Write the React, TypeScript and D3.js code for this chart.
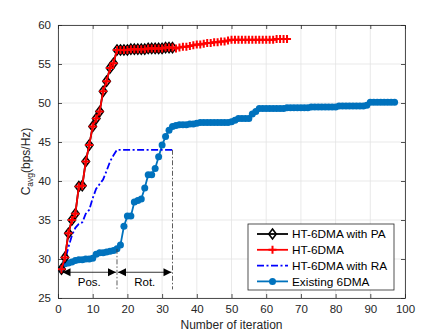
import React, { useRef, useEffect } from 'react';
import * as d3 from 'd3';

// values, iteration index starts at 1
const paValues = [28.7, 30.2, 33.3, 35.0, 35.8, 39.3, 39.4, 42.5, 44.6, 47.0, 48.0, 48.9, 51.5, 52.8, 54.5, 55.1, 56.8,
	56.8, 56.8, 56.8, 56.9, 56.9, 56.9, 56.9, 56.9, 57.0, 57.0, 57.0, 57.0, 57.0, 57.1, 57.1, 57.1];

const htValues = [28.7, 30.2, 33.3, 35.0, 35.8, 39.3, 39.4, 42.5, 44.6, 47.0, 48.0, 48.9, 51.5, 52.8, 54.5, 55.1, 56.8,
	56.8, 56.8, 56.8, 56.9, 56.9, 56.9, 56.9, 56.9, 57.0, 57.0, 57.0, 57.0, 57.0, 57.1, 57.1, 57.1,
	57.0, 57.1, 57.2, 57.2, 57.3, 57.4, 57.5, 57.5, 57.6, 57.7, 57.7, 57.8, 57.8, 57.9, 57.9, 58.0, 58.1,
	58.1, 58.1, 58.1, 58.1, 58.1, 58.1, 58.1, 58.1, 58.1, 58.1, 58.1, 58.1, 58.2, 58.2, 58.2, 58.2];

const raValues = [28.7, 29.8, 31.5, 33.0, 34.0, 34.5, 34.7, 35.8, 36.3, 37.8, 39.0, 39.6, 40.2, 41.3, 42.5, 43.3, 44.0,
	44.0, 44.0, 44.0, 44.0, 44.0, 44.0, 44.0, 44.0, 44.0, 44.0, 44.0, 44.0, 44.0, 44.0, 44.0, 44.0];

const existingValues = [28.7, 29.4, 29.5, 29.6, 29.8, 29.9, 29.9, 30.0, 30.0, 30.1,
	30.6, 30.8, 30.8, 30.9, 31.0, 31.1, 31.3, 31.8, 34.2, 35.5,
	35.5, 37.3, 37.5, 37.7, 39.1, 40.8, 40.8, 41.6, 43.1, 44.6,
	45.7, 46.5, 47.0, 47.1, 47.2, 47.2, 47.2, 47.3, 47.3, 47.4,
	47.5, 47.5, 47.5, 47.5, 47.5, 47.5, 47.5, 47.5, 47.5, 47.6,
	47.8, 48.0, 48.0, 48.0, 48.0, 48.6, 48.9, 49.3, 49.3, 49.3,
	49.3, 49.3, 49.3, 49.3, 49.3, 49.4, 49.4, 49.4, 49.4, 49.4,
	49.4, 49.4, 49.5, 49.5, 49.5, 49.5, 49.5, 49.5, 49.5, 49.5,
	49.6, 49.6, 49.6, 49.6, 49.6, 49.6, 49.6, 49.6, 49.7, 50.1,
	50.1, 50.1, 50.1, 50.1, 50.1, 50.1, 50.1];

const xTicks = [0, 10, 20, 30, 40, 50, 60, 70, 80, 90, 100];
const yTicks = [25, 30, 35, 40, 45, 50, 55, 60];
const legendLabels = ['HT-6DMA with PA', 'HT-6DMA', 'HT-6DMA with RA', 'Existing 6DMA'];
const phaseLabels = ['Pos.', 'Rot.'];
const phaseBounds = [1, 17, 33];

const App = () => {
	const svgRef = useRef(null);

	useEffect(() => {
		document.body.style.margin = '0';
		const width = 447;
		const height = 335;
		const m = { left: 58, right: 42, top: 25, bottom: 37 };
		const font = 'Liberation Sans, Arial, Helvetica, sans-serif';
		const axisColor = '#262626';

		const svg = d3.select(svgRef.current)
			.attr('width', width)
			.attr('height', height)
			.style('display', 'block')
			.style('background', '#fff');
		svg.selectAll('*').remove();

		const x = d3.scaleLinear().domain([0, 100]).range([m.left, width - m.right]);
		const y = d3.scaleLinear().domain([25, 60]).range([height - m.bottom, m.top]);

		const defs = svg.append('defs');
		defs.append('clipPath').attr('id', 'plot-clip')
			.append('rect')
			.attr('x', m.left).attr('y', m.top)
			.attr('width', x(100) - x(0)).attr('height', y(25) - y(60));

		// grid
		const grid = svg.append('g').attr('stroke', '#e3e3e3').attr('stroke-width', 0.8);
		grid.selectAll('.gx').data(xTicks).join('line')
			.attr('x1', d => x(d)).attr('x2', d => x(d))
			.attr('y1', y(25)).attr('y2', y(60));
		grid.selectAll('.gy').data(yTicks).join('line')
			.attr('y1', d => y(d)).attr('y2', d => y(d))
			.attr('x1', x(0)).attr('x2', x(100));

		// axes (ticks point inward, box on)
		const tickLen = 4;
		const xAxis = d3.axisBottom(x).tickValues(xTicks).tickSizeInner(-tickLen).tickSizeOuter(0).tickPadding(7);
		const yAxis = d3.axisLeft(y).tickValues(yTicks).tickSizeInner(-tickLen).tickSizeOuter(0).tickPadding(7);
		const xTop = d3.axisTop(x).tickValues(xTicks).tickSizeInner(-tickLen).tickSizeOuter(0).tickFormat(() => '');
		const yRight = d3.axisRight(y).tickValues(yTicks).tickSizeInner(-tickLen).tickSizeOuter(0).tickFormat(() => '');

		const axes = [
			svg.append('g').attr('transform', `translate(0,${y(25)})`).call(xAxis),
			svg.append('g').attr('transform', `translate(${x(0)},0)`).call(yAxis),
			svg.append('g').attr('transform', `translate(0,${y(60)})`).call(xTop),
			svg.append('g').attr('transform', `translate(${x(100)},0)`).call(yRight),
		];
		axes.forEach(g => {
			g.select('.domain').attr('stroke', axisColor).attr('stroke-width', 0.8);
			g.selectAll('.tick line').attr('stroke', axisColor).attr('stroke-width', 0.8);
			g.selectAll('.tick text').attr('fill', axisColor).style('font-family', font).style('font-size', '11.5px');
		});

		const plot = svg.append('g').attr('clip-path', 'url(#plot-clip)');
		const line = d3.line().x((d, i) => x(i + 1)).y(d => y(d));

		const plusPath = (s) => `M${-s},0H${s}M0,${-s}V${s}`;
		const diamondPath = (s) => `M0,${-s}L${s * 0.75},0L0,${s}L${-s * 0.75},0Z`;

		// Existing 6DMA
		plot.append('path').datum(existingValues)
			.attr('d', line).attr('fill', 'none').attr('stroke', '#0072bd').attr('stroke-width', 1.8);
		plot.selectAll('.ex').data(existingValues).join('circle')
			.attr('cx', (d, i) => x(i + 1)).attr('cy', d => y(d)).attr('r', 3.5)
			.attr('fill', '#0072bd');

		// HT-6DMA with RA
		plot.append('path').datum(raValues)
			.attr('d', line).attr('fill', 'none').attr('stroke', '#0000ff')
			.attr('stroke-width', 1.8).attr('stroke-dasharray', '7,2.5,2,2.5');

		// HT-6DMA with PA
		plot.append('path').datum(paValues)
			.attr('d', line).attr('fill', 'none').attr('stroke', '#000').attr('stroke-width', 1.8);
		plot.selectAll('.pa').data(paValues).join('path')
			.attr('transform', (d, i) => `translate(${x(i + 1)},${y(d)})`)
			.attr('d', diamondPath(5)).attr('fill', 'none').attr('stroke', '#000').attr('stroke-width', 1.6);

		// HT-6DMA
		plot.append('path').datum(htValues)
			.attr('d', line).attr('fill', 'none').attr('stroke', '#ff0000').attr('stroke-width', 1.8);
		plot.selectAll('.ht').data(htValues).join('path')
			.attr('transform', (d, i) => `translate(${x(i + 1)},${y(d)})`)
			.attr('d', plusPath(4)).attr('fill', 'none').attr('stroke', '#ff0000').attr('stroke-width', 2);

		// phase annotation lines
		svg.append('line')
			.attr('x1', x(phaseBounds[1])).attr('x2', x(phaseBounds[1]))
			.attr('y1', y(existingValues[phaseBounds[1] - 1])).attr('y2', y(26.1))
			.attr('stroke', '#333').attr('stroke-width', 0.8).attr('stroke-dasharray', '5,2,1.5,2');
		svg.append('line')
			.attr('x1', x(phaseBounds[2])).attr('x2', x(phaseBounds[2]))
			.attr('y1', y(raValues[phaseBounds[2] - 1])).attr('y2', y(26.1))
			.attr('stroke', '#333').attr('stroke-width', 0.8).attr('stroke-dasharray', '5,2,1.5,2');

		// double arrows
		const arrowY = y(28.3);
		const head = (px, dir) => `M${px},${arrowY}l${-dir * 8},-4l0,8Z`;
		phaseLabels.forEach((lab, k) => {
			const a = x(phaseBounds[k]) + 1;
			const b = x(phaseBounds[k + 1]) - 1;
			svg.append('line').attr('x1', a).attr('x2', b).attr('y1', arrowY).attr('y2', arrowY)
				.attr('stroke', '#000').attr('stroke-width', 0.8);
			svg.append('path').attr('d', head(a, -1)).attr('fill', '#000');
			svg.append('path').attr('d', head(b, 1)).attr('fill', '#000');
			svg.append('text')
				.attr('x', (a + b) / 2).attr('y', arrowY + 14)
				.attr('text-anchor', 'middle')
				.style('font-family', font).style('font-size', '11.5px').attr('fill', '#000')
				.text(lab);
		});

		// axis labels
		svg.append('text')
			.attr('x', (x(0) + x(100)) / 2).attr('y', 329)
			.attr('text-anchor', 'middle').attr('fill', axisColor)
			.style('font-family', font).style('font-size', '12px')
			.text('Number of iteration');

		const yl = svg.append('text')
			.attr('transform', `translate(30,${(y(25) + y(60)) / 2}) rotate(-90)`)
			.attr('text-anchor', 'middle').attr('fill', axisColor)
			.style('font-family', font).style('font-size', '12px');
		yl.append('tspan').text('C');
		yl.append('tspan').attr('dy', 3).style('font-size', '8.5px').text('avg');
		yl.append('tspan').attr('dy', -3).text('(bps/Hz)');

		// legend
		const lg = svg.append('g').attr('transform', 'translate(248,224)');
		lg.append('rect').attr('width', 146).attr('height', 66)
			.attr('fill', '#fff').attr('stroke', axisColor).attr('stroke-width', 0.8);
		const styles = [
			{ color: '#000', dash: null, marker: 'diamond' },
			{ color: '#ff0000', dash: null, marker: 'plus' },
			{ color: '#0000ff', dash: '7,2.5,2,2.5', marker: null },
			{ color: '#0072bd', dash: null, marker: 'circle' },
		];
		legendLabels.forEach((lab, i) => {
			const ry = 10 + i * 15.8;
			const st = styles[i];
			const row = lg.append('g').attr('transform', `translate(0,${ry})`);
			row.append('line').attr('x1', 9).attr('x2', 40).attr('y1', 0).attr('y2', 0)
				.attr('stroke', st.color).attr('stroke-width', 1.8)
				.attr('stroke-dasharray', st.dash);
			if (st.marker === 'diamond') {
				row.append('path').attr('transform', 'translate(24.5,0)').attr('d', diamondPath(5))
					.attr('fill', 'none').attr('stroke', st.color).attr('stroke-width', 1.6);
			} else if (st.marker === 'plus') {
				row.append('path').attr('transform', 'translate(24.5,0)').attr('d', plusPath(4))
					.attr('stroke', st.color).attr('stroke-width', 2);
			} else if (st.marker === 'circle') {
				row.append('circle').attr('cx', 24.5).attr('cy', 0).attr('r', 3.5).attr('fill', st.color);
			}
			row.append('text').attr('x', 44).attr('y', 4.2)
				.style('font-family', font).style('font-size', '11.8px').attr('fill', '#000')
				.text(lab);
		});
	}, []);

	return (
		<div>
			<svg ref={svgRef}></svg>
		</div>
	);
};

export default App;
